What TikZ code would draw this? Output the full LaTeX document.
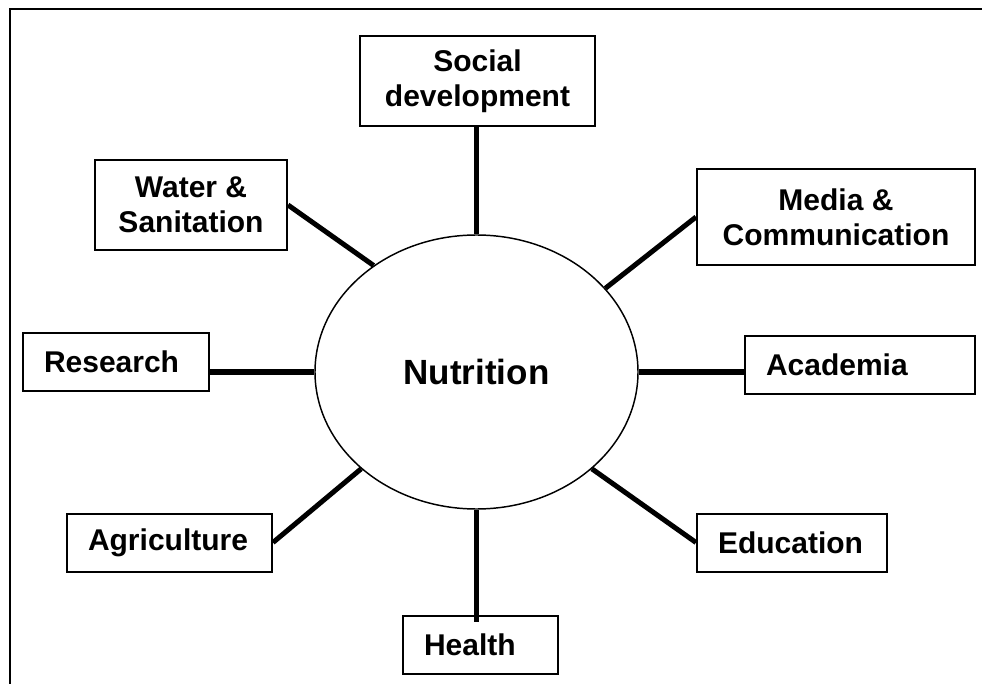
\documentclass[tikz,border=0pt]{standalone}
\usepackage{fontspec}
\setmainfont{Liberation Sans}
\usetikzlibrary{shapes.geometric}

\begin{document}
\begin{tikzpicture}[x=0.75pt, y=-0.75pt,
    every node/.style={font=\bfseries\fontsize{22.5}{26.25}\selectfont},
    sector/.style={draw, line width=1.5pt, align=center, inner sep=0pt},
    sectorleft/.style={draw, line width=1.5pt, align=left, inner xsep=15.75pt, inner ysep=0pt, minimum height=43.5pt},
    link/.style={line width=3.75pt}]
    \useasboundingbox (0,0) rectangle (982,684);

    % 1. frame
    \draw[line width=1pt] (10,684) -- (10,9) -- (982,9);

    % 2. centre
    \node[draw, ellipse, line width=1.1pt, minimum width=242.25pt, minimum height=205.5pt, inner sep=0pt,
          font=\bfseries\fontsize{26.25}{30}\selectfont] (nut) at (476.5,372) {Nutrition};

    % 3. sectors
    \node[sector, minimum width=176.25pt, minimum height=67.5pt] (soc) at (477.5,81) {Social\\development};
    \node[sector, minimum width=144pt, minimum height=67.5pt] (wat) at (191,205) {Water \&\\Sanitation};
    \node[sector, minimum width=208.5pt, minimum height=72pt] (med) at (836,217) {Media \&\\Communication};
    \node[sectorleft, text width=108pt] (res) at (116,362) {Research};
    \node[sectorleft, text width=141pt] (aca) at (860,365) {Academia};
    \node[sectorleft, text width=122.25pt] (agr) at (169.5,542.5) {Agriculture};
    \node[sectorleft, text width=111pt] (edu) at (792,542.5) {Education};
    \node[sectorleft, text width=84.75pt] (hea) at (480.5,645) {Health};

    % 4. links
    \draw[link] (nut.north) -- (nut.north |- soc.south);
    \draw[link] (wat.east) -- (nut.134);
    \draw[link] (med.west) -- (nut.33);
    \draw[link] (nut.west) -- (nut.west -| res.east);
    \draw[link] (nut.east) -- (nut.east -| aca.west);
    \draw[link] (agr.east) -- (nut.220);
    \draw[link] (edu.west) -- (nut.320);
    \draw[link, shorten >=-5pt] (nut.south) -- (nut.south |- hea.north);
\end{tikzpicture}
\end{document}
